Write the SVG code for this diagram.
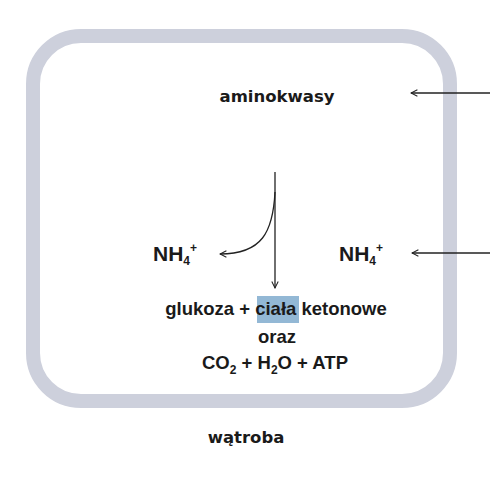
<svg xmlns="http://www.w3.org/2000/svg" width="490" height="483" viewBox="0 0 490 483">
<style>
.lbl{font-family:"DejaVu Sans",sans-serif;font-weight:bold;font-size:16.5px;fill:#1a1a1a}
.chem{font-family:"Liberation Sans",Arial,sans-serif;font-weight:bold;fill:#1a1a1a}
.con{fill:none;stroke:#222;stroke-width:1.3}
</style>
<defs>
<marker id="ah" viewBox="0 0 10 10" refX="9" refY="5" markerWidth="8" markerHeight="8" orient="auto" markerUnits="userSpaceOnUse">
<path d="M1,1 L9,5 L1,9" fill="none" stroke="#222" stroke-width="1.3"/>
</marker>
</defs>
<rect width="490" height="483" fill="#ffffff"/>
<g id="watroba">
<rect x="33" y="36" width="417" height="365" rx="48" ry="48" fill="none" stroke="#cdd0dc" stroke-width="14"/>
<text class="lbl" x="246" y="443" text-anchor="middle">wątroba</text>
</g>
<g id="aminokwasy">
<text class="lbl" x="277" y="102" text-anchor="middle">aminokwasy</text>
</g>
<g id="nh4-left">
<text class="chem" x="153" y="261" font-size="21">NH<tspan font-size="12" dy="4">4</tspan><tspan font-size="12" dy="-13">+</tspan></text>
</g>
<g id="nh4-right">
<text class="chem" x="339" y="261" font-size="21">NH<tspan font-size="12" dy="4">4</tspan><tspan font-size="12" dy="-13">+</tspan></text>
</g>
<g id="produkty">
<rect x="257" y="296" width="42" height="27" fill="#93b8d5"/>
<text class="chem" x="276" y="315" font-size="18.5" text-anchor="middle">glukoza + ciała ketonowe</text>
<text class="chem" x="277" y="343" font-size="18.5" text-anchor="middle">oraz</text>
<text class="chem" x="202" y="369" font-size="18.5">CO<tspan font-size="12" dy="5">2</tspan><tspan dy="-5"> + H</tspan><tspan font-size="12" dy="5">2</tspan><tspan dy="-5">O + ATP</tspan></text>
</g>
<g id="connectors">
<line class="con" x1="490" y1="93" x2="411" y2="93" marker-end="url(#ah)"/>
<line class="con" x1="490" y1="253" x2="412" y2="253" marker-end="url(#ah)"/>
<line class="con" x1="275" y1="172" x2="275" y2="288" marker-end="url(#ah)"/>
<path class="con" d="M275,192 C273,232 262,254 220,254" marker-end="url(#ah)"/>
</g>
</svg>
